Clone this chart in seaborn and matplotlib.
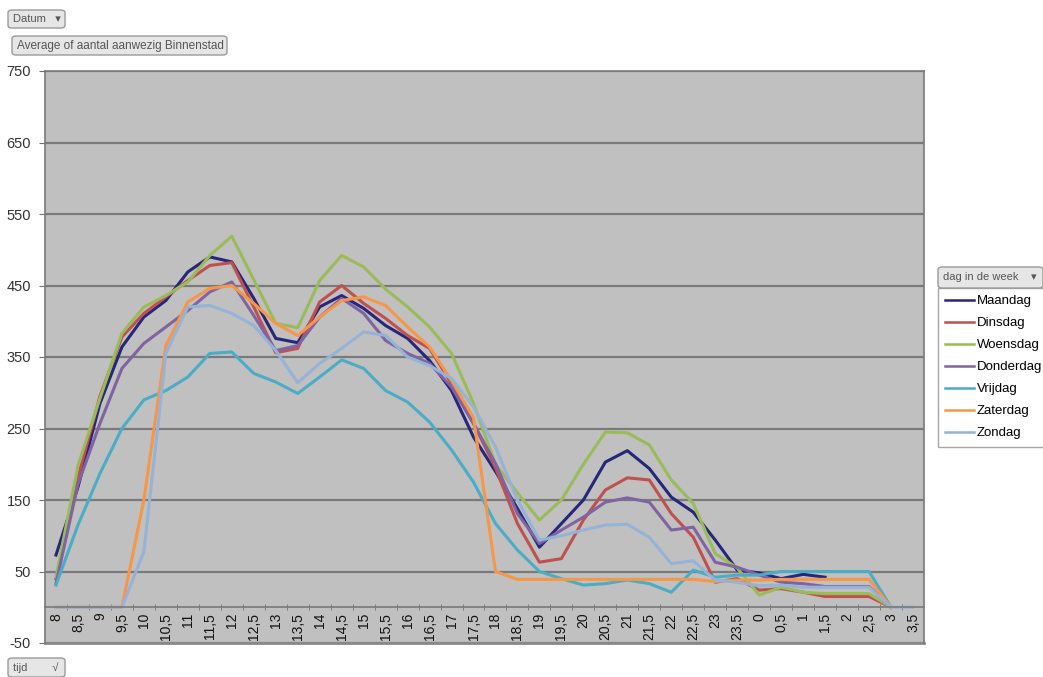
import pandas as pd
import numpy as np
import matplotlib.pyplot as plt
import seaborn as sns
from matplotlib.patches import FancyBboxPatch

# tijdstippen (categorie-as)
tijd = ["8", "8,5", "9", "9,5", "10", "10,5", "11", "11,5", "12", "12,5",
        "13", "13,5", "14", "14,5", "15", "15,5", "16", "16,5", "17", "17,5",
        "18", "18,5", "19", "19,5", "20", "20,5", "21", "21,5", "22", "22,5",
        "23", "23,5", "0", "0,5", "1", "1,5", "2", "2,5", "3", "3,5"]

nan = np.nan
maandag = [73, 168, 285, 364, 406, 429, 469, 490, 483, 432,
           376, 370, 420, 436, 418, 394, 376, 345, 303, 238,
           190, 138, 84, 117, 150, 203, 219, 194, 154, 133,
           94, 52, 48, 40, 46, 42, nan, nan, nan, nan]
dinsdag = [40, 182, 295, 378, 411, 434, 457, 478, 482, 420,
           356, 362, 427, 450, 425, 404, 380, 362, 313, 257,
           195, 117, 63, 68, 122, 164, 181, 178, 131, 98,
           35, 40, 24, 26, 21, 15, 15, 15, 0, nan]
woensdag = [42, 198, 292, 383, 420, 436, 455, 492, 519, 458,
            397, 391, 457, 492, 476, 445, 420, 392, 355, 285,
            200, 160, 122, 150, 200, 245, 244, 227, 178, 145,
            75, 55, 17, 28, 21, 19, 19, 19, 0, nan]
donderdag = [33, 172, 257, 334, 369, 392, 415, 441, 455, 408,
             359, 366, 406, 432, 411, 373, 355, 341, 308, 257,
             201, 131, 89, 108, 126, 147, 153, 147, 108, 112,
             63, 56, 45, 35, 33, 29, 29, 29, 0, nan]
vrijdag = [31, 115, 187, 250, 290, 303, 322, 355, 357, 327,
           315, 299, 322, 346, 334, 303, 287, 259, 220, 175,
           117, 80, 50, 40, 31, 33, 38, 33, 21, 52,
           42, 45, 45, 50, 50, 50, 50, 50, 0, nan]
zaterdag = [0, 0, 0, 0, 150, 366, 427, 446, 450, 425,
            397, 380, 406, 429, 434, 422, 392, 364, 317, 265,
            50, 39, 39, 39, 39, 39, 39, 39, 39, 39,
            36, 38, 38, 39, 39, 39, 39, 39, 0, nan]
zondag = [0, 0, 0, 0, 78, 355, 420, 422, 411, 394,
          359, 314, 341, 362, 385, 380, 350, 338, 320, 280,
          224, 150, 94, 100, 108, 115, 116, 98, 61, 65,
          38, 35, 30, 31, 28, 28, 28, 28, 0, 0]

dagen = ["Maandag", "Dinsdag", "Woensdag", "Donderdag", "Vrijdag", "Zaterdag", "Zondag"]
kleuren = {"Maandag": "#26267a", "Dinsdag": "#c0504d", "Woensdag": "#9bbb59",
           "Donderdag": "#8064a2", "Vrijdag": "#4bacc6", "Zaterdag": "#f79646",
           "Zondag": "#95b3d7"}
reeksen = dict(zip(dagen, [maandag, dinsdag, woensdag, donderdag, vrijdag, zaterdag, zondag]))

rows = []
for dag, waarden in reeksen.items():
    for i, w in enumerate(waarden):
        rows.append({"pos": i, "tijd": tijd[i], "dag": dag, "waarde": w})
df = pd.DataFrame(rows).dropna()

plt.rcParams["font.family"] = ["Liberation Sans", "DejaVu Sans"]
plt.rcParams["axes.unicode_minus"] = False

W, H = 1043, 677
fig = plt.figure(figsize=(W / 100, H / 100), dpi=100)
ax = fig.add_axes([45 / W, 34 / H, 879 / W, 572 / H])
ax.set_facecolor("#c0c0c0")

sns.lineplot(data=df, x="pos", y="waarde", hue="dag", hue_order=dagen,
             palette=kleuren, linewidth=2.2, sort=False, estimator=None, ax=ax)
for line in ax.get_lines():
    if line.get_label() == "Maandag":
        line.set_linewidth(1.5)

# categorie-as kruist bij 0 (eerst, want set_position reset de ticks)
for s in ax.spines.values():
    s.set_color("#7a7a7a")
    s.set_linewidth(1.2)
ax.spines["bottom"].set_position(("data", 0))
ax.axhline(-50, color="#8a8a8a", linewidth=2.0, clip_on=False)

ax.set_xlim(-0.5, len(tijd) - 0.5)
ax.set_ylim(-50, 750)
ax.set_yticks(np.arange(-50, 751, 100))
ax.set_xticks(range(len(tijd)))
ax.set_xticklabels(tijd, rotation=90, va="top", ha="center", fontsize=10)
ax.set_xticks(np.arange(0.5, len(tijd) - 0.5, 1), minor=True)
ax.tick_params(axis="x", which="major", length=0, pad=4, labelcolor="#111111")
ax.tick_params(axis="x", which="minor", length=5, direction="inout", color="#707070")
ax.tick_params(axis="y", length=4, color="#707070", labelsize=10.5, labelcolor="#333333", pad=6)
ax.set_xlabel("")
ax.set_ylabel("")

ax.grid(axis="y", color="#7a7a7a", linewidth=1.6)
ax.grid(axis="x", visible=False)
ax.set_axisbelow(True)

# legenda
old = ax.get_legend()
handles = old.legend_handles
labels = [t.get_text() for t in old.get_texts()]
old.remove()
for h in handles:
    h.set_linewidth(1.8)
leg = ax.legend(handles, labels, loc="upper left",
                bbox_to_anchor=(938 / W, 1 - 288 / H), bbox_transform=fig.transFigure,
                frameon=True, fancybox=False, edgecolor="#909090", fontsize=9.5,
                handlelength=2.2, handletextpad=0.2, labelspacing=0.74,
                borderpad=0.55, borderaxespad=0)
leg.get_frame().set_linewidth(1.0)


def knop(x0, y0, x1, y1, tekst, size=8.5):
    box = FancyBboxPatch((x0 / W, 1 - y1 / H), (x1 - x0) / W, (y1 - y0) / H,
                         boxstyle="round,pad=0,rounding_size=0.004",
                         transform=fig.transFigure, facecolor="#e6e6e6",
                         edgecolor="#9a9a9a", linewidth=1.0)
    fig.patches.append(box)
    fig.text((x0 + 5) / W, 1 - (y0 + y1) / 2 / H, tekst, fontsize=size,
             color="#555555", va="center", ha="left")


knop(8, 10, 65, 28, "Datum   \u25be", 8)
knop(12, 36, 227, 55, "Average of aantal aanwezig Binnenstad", 8.5)
knop(8, 658, 65, 677, "tijd        \u221a", 8)
knop(938, 267, 1043, 288, "dag in de week    \u25be", 8)

fig.savefig("out.png", dpi=100)
